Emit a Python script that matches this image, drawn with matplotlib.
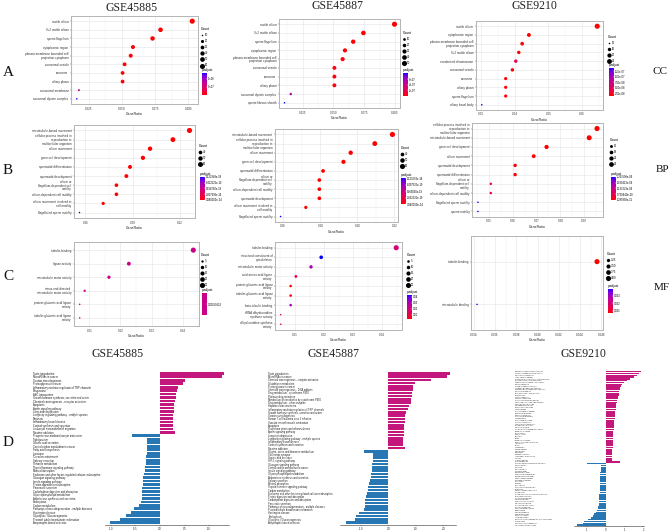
import numpy as np
import matplotlib
matplotlib.use("Agg")
import matplotlib.pyplot as plt
from matplotlib.colors import ListedColormap, Normalize
from matplotlib.lines import Line2D
from matplotlib.ticker import AutoMinorLocator
import matplotlib.cm as cm

plt.rcParams['font.family'] = ['Liberation Sans', 'DejaVu Sans']

# ------------------------------------------------------------------ data
# A: cellular component
A1_terms = ["motile cilium", "9+2 motile cilium", "sperm flagellum", "cytoplasmic region",
            "plasma membrane bounded cell\nprojection cytoplasm", "acrosomal vesicle", "axoneme",
            "ciliary plasm", "acrosomal membrane", "axonemal dynein complex"]
A1_ratio = [0.1028, 0.0790, 0.0730, 0.0583, 0.0566, 0.0520, 0.0505, 0.0505, 0.0177, 0.0161]
A1_count = [62, 47, 44, 35, 34, 31, 30, 30, 11, 10]
A1_padj = [3.1e-10, 4.0e-9, 6.0e-9, 1.5e-8, 1.6e-8, 2.3e-8, 2.6e-8, 2.6e-8, 7.2e-7, 1.36e-6]

A2_terms = ["motile cilium", "9+2 motile cilium", "sperm flagellum", "cytoplasmic region",
            "plasma membrane bounded cell\nprojection cytoplasm", "acrosomal vesicle", "axoneme",
            "ciliary plasm", "axonemal dynein complex", "sperm fibrous sheath"]
A2_ratio = [0.0997, 0.0744, 0.0661, 0.0594, 0.0575, 0.0508, 0.0508, 0.0508, 0.0153, 0.0102]
A2_count = [52, 39, 34, 31, 30, 26, 26, 26, 8, 5]
A2_padj = [1.0e-10, 2.0e-9, 5.0e-9, 1.2e-8, 1.4e-8, 2.5e-8, 2.5e-8, 2.5e-8, 5.3e-7, 8.2e-7]

A3_terms = ["motile cilium", "cytoplasmic region", "plasma membrane bounded cell\nprojection cytoplasm",
            "9+2 motile cilium", "condensed chromosome", "acrosomal vesicle", "axoneme",
            "ciliary plasm", "sperm flagellum", "ciliary basal body"]
A3_ratio = [0.0645, 0.0442, 0.0422, 0.0412, 0.0403, 0.0393, 0.0373, 0.0373, 0.0373, 0.0302]
A3_count = [26, 18, 17, 16, 16, 16, 15, 15, 15, 12]
A3_padj = [1.27e-8, 1.30e-8, 1.32e-8, 1.35e-8, 4.6e-8, 1.4e-8, 1.5e-8, 1.5e-8, 1.5e-8, 1.385e-7]

# B: biological process
B1_terms = ["microtubule-based movement", "cellular process involved in\nreproduction in\nmulticellular organism",
            "cilium movement", "germ cell development", "spermatid differentiation", "spermatid development",
            "cilium or\nflagellum-dependent cell\nmotility", "cilium-dependent cell motility",
            "cilium movement involved in\ncell motility", "flagellated sperm motility"]
B1_ratio = [0.1259, 0.1154, 0.1009, 0.0964, 0.0882, 0.0859, 0.0796, 0.0796, 0.0712, 0.0562]
B1_count = [63, 58, 50, 48, 44, 43, 40, 40, 36, 28]
B1_padj = [3.08e-24, 1.0e-23, 5.0e-23, 8.0e-23, 2.0e-22, 3.0e-22, 6.0e-22, 6.0e-22, 1.5e-21, 1.122949e-18]

B2_terms = ["microtubule-based movement", "cellular process involved in\nreproduction in\nmulticellular organism",
            "cilium movement", "germ cell development", "spermatid differentiation",
            "cilium or\nflagellum-dependent cell\nmotility", "cilium-dependent cell motility",
            "spermatid development", "cilium movement involved in\ncell motility", "flagellated sperm motility"]
B2_ratio = [0.1189, 0.1094, 0.0964, 0.0925, 0.0815, 0.0795, 0.0795, 0.0795, 0.0722, 0.0586]
B2_count = [60, 55, 48, 46, 41, 40, 40, 40, 36, 29]
B2_padj = [3.04e-24, 1.2e-23, 6.0e-23, 9.0e-23, 2.5e-22, 4.0e-22, 4.0e-22, 4.0e-22, 1.8e-21, 1.133003e-18]

B3_terms = ["cellular process involved in\nreproduction in\nmulticellular organism", "microtubule-based movement",
            "germ cell development", "cilium movement", "spermatid development", "spermatid differentiation",
            "cilium or\nflagellum-dependent cell\nmotility", "cilium-dependent cell motility",
            "flagellated sperm motility", "sperm motility"]
B3_ratio = [0.0954, 0.0921, 0.0742, 0.0688, 0.0610, 0.0610, 0.0508, 0.0508, 0.0454, 0.0454]
B3_count = [27, 26, 21, 19, 17, 17, 14, 14, 13, 13]
B3_padj = [1.285938e-11, 1.4e-11, 3.0e-11, 4.0e-11, 6.0e-11, 6.0e-11, 4.3e-10, 4.3e-10, 2.253598e-9, 2.253598e-9]

# C: molecular function
C1_terms = ["tubulin binding", "ligase activity", "microtubule motor activity",
            "minus-end-directed\nmicrotubule motor activity", "protein-glutamic acid ligase\nactivity",
            "tubulin-glutamic acid ligase\nactivity"]
C1_ratio = [0.0434, 0.0227, 0.0163, 0.0085, 0.0069, 0.0069]
C1_count = [25, 13, 9, 5, 4, 4]
C1_padj = [0.01050823, 0.01050823, 0.01050823, 0.01050823, 0.01050823, 0.01050823]

C2_terms = ["tubulin binding", "structural constituent of\ncytoskeleton", "microtubule motor activity",
            "acid-amino acid ligase\nactivity", "protein-glutamic acid ligase\nactivity",
            "tubulin-glutamic acid ligase\nactivity", "beta-tubulin binding",
            "tRNA dihydrouridine\nsynthase activity", "dihydrouridine synthase\nactivity"]
C2_ratio = [0.0448, 0.0190, 0.0155, 0.0103, 0.0085, 0.0085, 0.0085, 0.0051, 0.0051]
C2_count = [26, 11, 9, 6, 5, 5, 5, 3, 3]
C2_padj = [0.021, 0.0428, 0.031, 0.011, 0.0033, 0.0035, 0.031, 0.019, 0.019]

C3_terms = ["tubulin binding", "microtubule binding"]
C3_ratio = [0.0456, 0.0343]
C3_count = [4, 3]
C3_padj = [0.0007, 0.00388]

# D: KEGG bar charts
D1_terms = ["Taste transduction", "MicroRNAs in cancer", "Ovarian steroidogenesis", "Proteoglycans in cancer",
            "Inflammatory mediator regulation of TRP channels", "Phagosome", "ABC transporters",
            "Growth hormone synthesis, secretion and action", "Chemical carcinogenesis - receptor activation",
            "Apoptosis", "Apelin signaling pathway", "Long-term depression",
            "Longevity regulating pathway - multiple species", "Pertussis", "Inflammatory bowel disease",
            "Cortisol synthesis and secretion", "Leukocyte transendothelial migration", "Nicotine addiction",
            "Progesterone-mediated oocyte maturation", "Tight junction", "Gastric acid secretion",
            "Central carbon metabolism in cancer", "Fatty acid biosynthesis", "Lysosome", "Circadian entrainment",
            "Salivary secretion", "Thiamine metabolism", "Thyroid hormone signaling pathway", "Mineral absorption",
            "Endocrine and other factor-regulated calcium reabsorption", "Glucagon signaling pathway",
            "Insulin signaling pathway", "Protein digestion and absorption", "Pancreatic secretion",
            "Carbohydrate digestion and absorption", "Glycerophospholipid metabolism",
            "Aldosterone synthesis and secretion", "Endocytosis", "Carbon metabolism",
            "Pathways of neurodegeneration - multiple diseases", "Huntington disease",
            "Glycolysis / Gluconeogenesis", "Proximal tubule bicarbonate reclamation",
            "Amyotrophic lateral sclerosis"]
D1_values = [1.30, 1.26, 0.52, 0.47, 0.36, 0.34, 0.33, 0.32, 0.31, 0.29, 0.28, 0.28, 0.27, 0.27, 0.26, 0.26,
             0.26, 0.30,
             -0.58, -0.27, -0.27, -0.27, -0.27, -0.27, -0.28, -0.29, -0.29, -0.30, -0.31, -0.33, -0.34, -0.35,
             -0.35, -0.36, -0.37, -0.37, -0.37, -0.39, -0.43, -0.52, -0.60, -0.70, -0.82, -1.01]

D2_terms = ["Taste transduction", "MicroRNAs in cancer", "Chemical carcinogenesis - receptor activation",
            "Glutathione metabolism", "Proteoglycans in cancer", "Chemical carcinogenesis - DNA adducts",
            "Drug metabolism - cytochrome P450", "Platinum drug resistance",
            "Metabolism of xenobiotics by cytochrome P450", "Drug metabolism - other enzymes",
            "Hepatocellular carcinoma", "Inflammatory mediator regulation of TRP channels",
            "Growth hormone synthesis, secretion and action", "Ovarian steroidogenesis",
            "Human T-cell leukemia virus 1 infection", "Vascular smooth muscle contraction", "Apoptosis",
            "Fluid shear stress and atherosclerosis", "Apelin signaling pathway", "Long-term depression",
            "Longevity regulating pathway - multiple species", "Inflammatory bowel disease",
            "Cortisol synthesis and secretion", "Nicotine addiction",
            "Glycine, serine and threonine metabolism", "Cholinergic synapse", "Gastric acid secretion",
            "HIF-1 signaling pathway", "Glucagon signaling pathway", "Central carbon metabolism in cancer",
            "Insulin signaling pathway", "Glycerophospholipid metabolism", "Aldosterone synthesis and secretion",
            "Salivary secretion", "Mineral absorption", "Thyroid hormone signaling pathway", "Carbon metabolism",
            "Endocrine and other factor-regulated calcium reabsorption", "Protein digestion and absorption",
            "Carbohydrate digestion and absorption", "Pancreatic secretion",
            "Pathways of neurodegeneration - multiple diseases", "Proximal tubule bicarbonate reclamation",
            "Huntington disease", "Endocytosis", "Glycolysis / Gluconeogenesis", "Amyotrophic lateral sclerosis"]
D2_values = [2.26, 2.13, 1.55, 0.98, 0.91, 0.89, 0.88, 0.87, 0.83, 0.82, 0.77, 0.73, 0.63, 0.62, 0.62, 0.60,
             0.57, 0.57, 0.56, 0.56, 0.55, 0.54, 0.54, 0.59,
             -0.88, -0.55, -0.55, -0.57, -0.59, -0.60, -0.61, -0.62, -0.63, -0.67, -0.70, -0.72, -0.74, -0.79,
             -0.82, -0.83, -0.84, -0.85, -0.87, -1.06, -1.18, -1.22, -1.55]

D3_terms = ["Neuroactive ligand-receptor interaction", "Cytokine-cytokine receptor interaction",
            "Calcium signaling pathway", "cAMP signaling pathway", "Metabolism of xenobiotics by cytochrome P450",
            "Drug metabolism - cytochrome P450", "Chemical carcinogenesis - DNA adducts", "Retinol metabolism",
            "Steroid hormone biosynthesis", "Ascorbate and aldarate metabolism",
            "Pentose and glucuronate interconversions", "Porphyrin metabolism", "Drug metabolism - other enzymes",
            "Bile secretion", "Taste transduction", "Olfactory transduction", "Staphylococcus aureus infection",
            "Complement and coagulation cascades", "Hematopoietic cell lineage", "Cell adhesion molecules",
            "ECM-receptor interaction", "Focal adhesion", "PI3K-Akt signaling pathway", "Rap1 signaling pathway",
            "Ras signaling pathway", "MAPK signaling pathway", "Axon guidance", "Hippo signaling pathway",
            "Wnt signaling pathway", "TGF-beta signaling pathway", "Proteoglycans in cancer", "Pathways in cancer",
            "Transcriptional misregulation in cancer", "Basal cell carcinoma", "Breast cancer", "Gastric cancer",
            "Melanoma", "Glioma", "Renal cell carcinoma", "Human papillomavirus infection", "Amoebiasis",
            "Malaria", "Leishmaniasis", "Chagas disease", "Toxoplasmosis", "Tuberculosis", "Rheumatoid arthritis",
            "Inflammatory bowel disease", "Asthma", "Allograft rejection", "Nicotine addiction",
            "Progesterone-mediated oocyte maturation", "Oocyte meiosis", "Cell cycle", "DNA replication",
            "Mismatch repair", "Base excision repair", "Homologous recombination", "Nucleotide excision repair",
            "Fanconi anemia pathway", "p53 signaling pathway", "Spliceosome", "Ribosome", "RNA transport",
            "mRNA surveillance pathway", "Proteasome", "Ubiquitin mediated proteolysis", "Protein export",
            "Protein processing in endoplasmic reticulum", "N-Glycan biosynthesis", "Pyrimidine metabolism",
            "Purine metabolism", "One carbon pool by folate", "Fatty acid degradation", "Citrate cycle (TCA cycle)",
            "Pyruvate metabolism", "Oxidative phosphorylation", "Thermogenesis", "Carbon metabolism",
            "Huntington disease", "Parkinson disease", "Alzheimer disease",
            "Pathways of neurodegeneration - multiple diseases", "Prion disease", "Glycolysis / Gluconeogenesis",
            "Amyotrophic lateral sclerosis"]
D3_values = [1.86, 1.77, 1.64, 1.50, 1.29, 1.11, 0.96, 0.86, 0.80, 0.77, 0.75, 0.72, 0.70, 0.67, 0.64, 0.62,
             0.60, 0.58, 0.56, 0.54, 0.52, 0.51, 0.50, 0.49, 0.48, 0.47, 0.46, 0.45, 0.44, 0.43, 0.43, 0.42,
             0.41, 0.40, 0.40, 0.39, 0.38, 0.38, 0.37, 0.36, 0.36, 0.35, 0.35, 0.34, 0.34, 0.33, 0.33, 0.32,
             0.31, 0.30, 0.75,
             -1.03, -0.28, -0.28, -0.29, -0.29, -0.30, -0.30, -0.30, -0.31, -0.31, -0.31, -0.32, -0.32, -0.33,
             -0.33, -0.34, -0.34, -0.35, -0.35, -0.36, -0.37, -0.38, -0.39, -0.40, -0.42, -0.45, -0.50, -0.55,
             -0.62, -0.70, -0.80, -0.95, -1.15, -1.25, -1.53]

# ------------------------------------------------------------------ figure
W, H, DPI = 669, 531, 100
fig = plt.figure(figsize=(W / DPI, H / DPI), dpi=DPI)
fig.patch.set_facecolor("white")
SERIF = ["Liberation Serif", "DejaVu Serif"]


def px_axes(x0, y0, x1, y1):
    return fig.add_axes([x0 / W, 1 - y1 / H, (x1 - x0) / W, (y1 - y0) / H])


# ggplot-like red -> blue gradient interpolated in CIELAB
_M = np.array([[0.4124564, 0.3575761, 0.1804375],
               [0.2126729, 0.7151522, 0.0721750],
               [0.0193339, 0.1191920, 0.9503041]])
_WP = np.array([0.95047, 1.0, 1.08883])


def srgb_to_lab(c):
    c = np.asarray(c, float)
    lin = np.where(c <= 0.04045, c / 12.92, ((c + 0.055) / 1.055) ** 2.4)
    xyz = _M @ lin / _WP
    f = np.where(xyz > 0.008856, np.cbrt(xyz), 7.787 * xyz + 16 / 116)
    return np.array([116 * f[1] - 16, 500 * (f[0] - f[1]), 200 * (f[1] - f[2])])


def lab_to_srgb(lab):
    L, a, b = lab
    fy = (L + 16) / 116
    f = np.array([fy + a / 500, fy, fy - b / 200])
    xyz = np.where(f ** 3 > 0.008856, f ** 3, (f - 16 / 116) / 7.787) * _WP
    lin = np.clip(np.linalg.inv(_M) @ xyz, 0, 1)
    c = np.where(lin <= 0.0031308, 12.92 * lin, 1.055 * lin ** (1 / 2.4) - 0.055)
    return np.clip(c, 0, 1)


_r, _b = srgb_to_lab([1, 0, 0]), srgb_to_lab([0, 0, 1])
RB = ListedColormap([lab_to_srgb(_r + (_b - _r) * t) for t in np.linspace(0, 1, 256)])
MID = lab_to_srgb((_r + _b) / 2)

DMIN, DMAX = 1.1, 3.7   # dot diameter range (points)


def dotplot(box, terms, ratio, count, padj, xticks, xticklabels, leg_xy, breaks, blabels,
            cbox, cticks, clabels, single=False):
    ax = px_axes(*box)
    ratio = np.asarray(ratio, float)
    count = np.asarray(count, float)
    cmin, cmax = count.min(), count.max()

    def diam(c):
        t = np.clip((np.asarray(c, float) - cmin) / (cmax - cmin), 0, 1)
        return DMIN + (DMAX - DMIN) * np.sqrt(t)

    if single:
        cmap = ListedColormap([MID])
        norm = Normalize(padj[0] * 0.999, padj[0] * 1.001)
    else:
        cmap = RB
        norm = Normalize(min(padj), max(padj))
    ax.scatter(ratio, terms, s=diam(count) ** 2, c=padj, cmap=cmap, norm=norm,
               edgecolors="none", zorder=3)
    n = len(terms)
    ax.set_ylim(n - 1 + 0.6, -0.6)
    lo, hi = ratio.min(), ratio.max()
    r = hi - lo
    ax.set_xlim(lo - 0.05 * r, hi + 0.05 * r)
    ax.set_xticks(xticks, labels=xticklabels)
    ax.xaxis.set_minor_locator(AutoMinorLocator(2))
    ax.set_axisbelow(True)
    ax.grid(True, which="major", color="#E6E6E6", lw=0.45)
    ax.grid(True, which="minor", axis="x", color="#F0F0F0", lw=0.3)
    for s in ax.spines.values():
        s.set_color("#B5B5B5")
        s.set_linewidth(0.7)
    ax.tick_params(which="major", length=1.0, width=0.3, color="#444444", labelsize=2.2,
                   pad=0.8, labelcolor="#333333")
    ax.tick_params(which="minor", length=0)
    ax.set_xlabel("GeneRatio", fontsize=2.5, labelpad=0.8, color="#222222")
    for t in ax.get_yticklabels():
        t.set_linespacing(0.95)

    handles = [Line2D([], [], ls="", marker="o", ms=float(diam(b)), mfc="black", mec="none")
               for b in breaks]
    ax.legend(handles, blabels, title="Count", loc="upper left",
              bbox_to_anchor=(leg_xy[0] / W, 1 - leg_xy[1] / H), bbox_transform=fig.transFigure,
              frameon=False, fontsize=2.0, title_fontsize=2.4, handlelength=0.9,
              handletextpad=0.5, labelspacing=0.75, borderpad=0, borderaxespad=0, alignment="left")

    cax = px_axes(*cbox)
    sm = cm.ScalarMappable(norm=norm, cmap=cmap)
    cb = fig.colorbar(sm, cax=cax)
    cb.set_ticks(cticks, labels=clabels)
    cb.outline.set_visible(False)
    cax.tick_params(length=1.0, width=0.3, color="white", direction="in", labelsize=1.9, pad=1.0)
    cax.set_title("p.adjust", fontsize=2.3, loc="left", pad=1.5)
    return ax


MAG, BLU = "#C4177E", "#2677B4"


def barplot(box, terms, values, xticks, xticklabels, fs, pad_pt):
    ax = px_axes(*box)
    v = np.asarray(values, float)
    colors = [MAG if x > 0 else BLU for x in v]
    ax.barh(terms, v, height=0.78, color=colors, edgecolor="none")
    n = len(terms)
    ax.set_ylim(n - 1 + 0.6, -0.6)
    lo, hi = v.min(), v.max()
    r = hi - lo
    ax.set_xlim(lo - 0.05 * r, hi + 0.05 * r)
    for s in ("top", "right", "left"):
        ax.spines[s].set_visible(False)
    ax.spines["bottom"].set_linewidth(0.4)
    ax.spines["bottom"].set_color("#333333")
    ax.tick_params(axis="y", length=0, pad=pad_pt, labelsize=fs, labelcolor="#222222")
    for t in ax.get_yticklabels():
        t.set_horizontalalignment("left")
    ax.set_xticks(xticks, labels=xticklabels)
    ax.tick_params(axis="x", length=1.0, width=0.3, labelsize=1.9, pad=0.4, labelcolor="#222222")
    ax.set_facecolor("none")
    return ax


# ---------------- row A (CC)
dotplot((71, 16, 198, 104), A1_terms, A1_ratio, A1_count, A1_padj,
        [0.025, 0.05, 0.075, 0.1], ["0.025", "0.050", "0.075", "0.100"],
        (201, 27), [10, 20, 30, 40, 50, 60], ["10", "20", "30", "40", "50", "60"],
        (202, 73, 206.5, 95), [5e-7, 1e-6], ["5e-07", "1e-06"])
dotplot((279, 19, 400, 108), A2_terms, A2_ratio, A2_count, A2_padj,
        [0.025, 0.05, 0.075, 0.1], ["0.025", "0.050", "0.075", "0.100"],
        (403, 31), [10, 20, 30, 40, 50], ["10", "20", "30", "40", "50"],
        (403, 73, 407.5, 96), [2e-7, 4e-7, 6e-7], ["2e-07", "4e-07", "6e-07"])
dotplot((476, 21, 603, 110), A3_terms, A3_ratio, A3_count, A3_padj,
        [0.03, 0.04, 0.05, 0.06], ["0.03", "0.04", "0.05", "0.06"],
        (608, 35), [12, 16, 20, 24], ["12", "16", "20", "24"],
        (609, 68, 613.5, 96), [2.5e-8, 5e-8, 7.5e-8, 1e-7, 1.25e-7],
        ["2.50e-08", "5.00e-08", "7.50e-08", "1.00e-07", "1.25e-07"])

# ---------------- row B (BP)
b1t = np.linspace(min(B1_padj), max(B1_padj), 5)
dotplot((74, 125, 195, 218), B1_terms, B1_ratio, B1_count, B1_padj,
        [0.06, 0.09, 0.12], ["0.06", "0.09", "0.12"],
        (199, 144), [40, 50, 60], ["40", "50", "60"],
        (200, 177, 204.5, 200), b1t, ["%.6e" % t for t in b1t])
b2t = np.linspace(min(B2_padj), max(B2_padj), 5)
dotplot((275, 129, 398, 222), B2_terms, B2_ratio, B2_count, B2_padj,
        [0.06, 0.08, 0.10, 0.12], ["0.06", "0.08", "0.10", "0.12"],
        (401, 146), [40, 50, 60], ["40", "50", "60"],
        (401, 178, 405.5, 204), b2t, ["%.6e" % t for t in b2t])
b3t = np.linspace(min(B3_padj), max(B3_padj), 5)
dotplot((472, 123, 603, 217), B3_terms, B3_ratio, B3_count, B3_padj,
        [0.05, 0.06, 0.07, 0.08, 0.09], ["0.05", "0.06", "0.07", "0.08", "0.09"],
        (610, 138), [15, 18, 21, 24], ["15", "18", "21", "24"],
        (611, 177, 615.5, 200), b3t, ["%.6e" % t for t in b3t])

# ---------------- row C (MF)
dotplot((74, 242, 199, 326), C1_terms, C1_ratio, C1_count, C1_padj,
        [0.01, 0.02, 0.03, 0.04], ["0.01", "0.02", "0.03", "0.04"],
        (201, 253), [5, 10, 15, 20, 25], ["5", "10", "15", "20", "25"],
        (202, 293, 206.5, 315), [C1_padj[0]], ["0.01050823"], single=True)
dotplot((275, 242, 402, 330), C2_terms, C2_ratio, C2_count, C2_padj,
        [0.01, 0.02, 0.03, 0.04], ["0.01", "0.02", "0.03", "0.04"],
        (407, 253), [5, 10, 15, 20, 25], ["5", "10", "15", "20", "25"],
        (407, 295, 411.5, 319), [0.01, 0.02, 0.03, 0.04], ["0.01", "0.02", "0.03", "0.04"])
dotplot((471, 236, 603, 330), C3_terms, C3_ratio, C3_count, C3_padj,
        [0.034, 0.036, 0.038, 0.040, 0.042, 0.044, 0.046],
        ["0.034", "0.036", "0.038", "0.040", "0.042", "0.044", "0.046"],
        (607, 252), [3.25, 3.5, 3.75, 4.0], ["3.25", "3.50", "3.75", "4.00"],
        (608, 289, 612.5, 313), [0.001, 0.002, 0.003], ["0.001", "0.002", "0.003"])

# ---------------- row D (KEGG bars)
barplot((104.8, 371.2, 229.4, 524.8), D1_terms, D1_values,
        [-1.0, -0.5, 0.0, 0.5, 1.0], ["-1.0", "-0.5", "0.0", "0.5", "1.0"], 1.9, 51.7)
barplot((340.4, 371.4, 455.7, 524.6), D2_terms, D2_values,
        [-1.0, 0.0, 1.0, 2.0], ["-1.0", "0.0", "1.0", "2.0"], 1.8, 51.9)
barplot((574.2, 370.6, 644.0, 526.1), D3_terms, D3_values,
        [-1, 0, 1, 2], ["-1", "0", "1", "2"], 1.15, 42.6)

# ---------------- titles and panel letters
for txt, x, y in [("GSE45885", 132, 8), ("GSE45887", 337, 6), ("GSE9210", 534, 6),
                  ("GSE45885", 118, 354), ("GSE45887", 333, 354), ("GSE9210", 583, 354)]:
    fig.text(x / W, 1 - y / H, txt, family=SERIF, fontsize=8.5, ha="center", va="center", color="#222222")
for txt, x, y in [("A", 8, 73), ("B", 8, 171), ("C", 8, 277), ("D", 8, 443)]:
    fig.text(x / W, 1 - y / H, txt, family=SERIF, fontsize=11, ha="center", va="center", color="#111111")
for txt, x, y in [("CC", 660, 72), ("BP", 662, 169), ("MF", 662, 287)]:
    fig.text(x / W, 1 - y / H, txt, family=SERIF, fontsize=8, ha="center", va="center", color="#111111")

fig.savefig("out.png", dpi=DPI, facecolor="white")
